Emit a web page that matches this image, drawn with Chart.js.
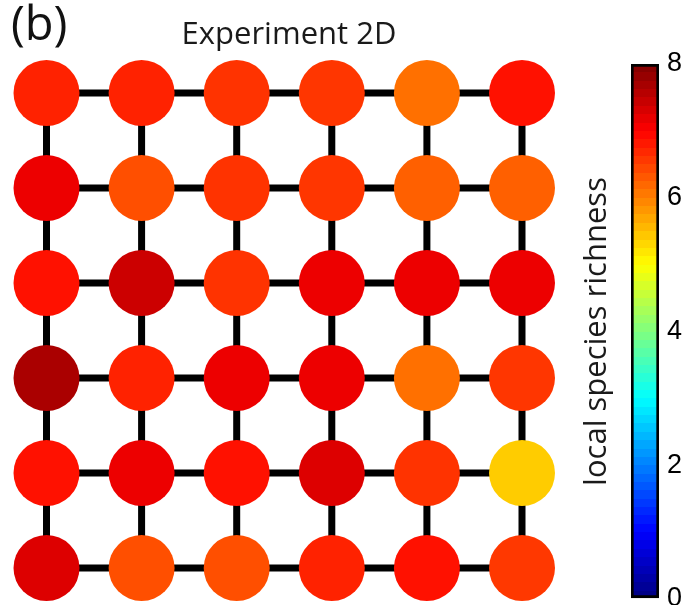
<!DOCTYPE html>
<html>
<head>
<meta charset="utf-8">
<script src="https://cdn.jsdelivr.net/npm/chart.js@4.4.1/dist/chart.umd.min.js"></script>
<style>
  html, body { margin: 0; padding: 0; background: #ffffff; }
  #wrap { position: relative; width: 689px; height: 605px; overflow: hidden; background: #fff; }
  #gridBox { position: absolute; left: 0; top: 0; width: 580px; height: 605px; }
  #cbBox { position: absolute; left: 576px; top: 0; width: 113px; height: 605px; }
  #panel { position: absolute; left: 11px; top: -10px; font-family: "Open Sans", sans-serif; font-size: 47px; line-height: normal; color: #111; }
  #title { position: absolute; left: 0; width: 578px; top: 11px; text-align: center; font-family: "Open Sans", sans-serif; font-size: 31px; line-height: normal; color: #1a1a1a; }
</style>
</head>
<body>
<div id="wrap">
  <div id="gridBox"><canvas id="grid"></canvas></div>
  <div id="cbBox"><canvas id="cb"></canvas></div>
  <div id="panel">(b)</div>
  <div id="title">Experiment 2D</div>
</div>
<script>
// ---- data ----
const gridCols = [0, 1, 2, 3, 4, 5];
const gridRows = [0, 1, 2, 3, 4, 5];           // row 0 = top
const richnessRow1 = [6.73, 6.73, 6.60, 6.58, 6.12, 6.87];
const richnessRow2 = [7.14, 6.38, 6.60, 6.58, 6.25, 6.25];
const richnessRow3 = [6.87, 7.40, 6.60, 7.14, 7.14, 7.14];
const richnessRow4 = [7.67, 6.73, 7.14, 7.14, 6.12, 6.58];
const richnessRow5 = [6.87, 7.14, 6.87, 7.27, 6.60, 5.40];
const richnessRow6 = [7.27, 6.38, 6.38, 6.73, 6.87, 6.56];
const richness = [richnessRow1, richnessRow2, richnessRow3, richnessRow4, richnessRow5, richnessRow6];
const colorbarTicks = [0, 2, 4, 6, 8];
const colorbarLabel = "local species richness";
const cMin = 0, cMax = 8;

// ---- jet colormap ----
function clamp01(v) { return Math.max(0, Math.min(1, v)); }
function jet(t) {
  const r = clamp01(1.5 - Math.abs(4 * t - 3));
  const g = clamp01(1.5 - Math.abs(4 * t - 2));
  const b = clamp01(1.5 - Math.abs(4 * t - 1));
  return `rgb(${Math.round(r * 255)},${Math.round(g * 255)},${Math.round(b * 255)})`;
}
function colorFor(v) { return jet((v - cMin) / (cMax - cMin)); }

// ---- main grid chart ----
const nodePoints = [];
const nodeColors = [];
gridRows.forEach((r, ri) => gridCols.forEach((c, ci) => {
  nodePoints.push({ x: c, y: r, v: richness[ri][ci] });
  nodeColors.push(colorFor(richness[ri][ci]));
}));

const edgeSets = [];
gridRows.forEach(r => edgeSets.push(gridCols.map(c => ({ x: c, y: r }))));
gridCols.forEach(c => edgeSets.push(gridRows.map(r => ({ x: c, y: r }))));

const datasets = [{
  label: 'nodes',
  data: nodePoints,
  pointBackgroundColor: nodeColors,
  pointBorderWidth: 0,
  pointRadius: 33,
  pointHoverRadius: 33,
  showLine: false,
  clip: false,
  order: 0
}];
edgeSets.forEach((d, i) => datasets.push({
  label: 'edge' + i,
  data: d,
  showLine: true,
  borderColor: '#000',
  borderWidth: 7,
  borderCapStyle: 'butt',
  pointRadius: 0,
  pointHoverRadius: 0,
  clip: false,
  order: 1
}));

new Chart(document.getElementById('grid'), {
  type: 'scatter',
  data: { datasets },
  options: {
    responsive: true,
    maintainAspectRatio: false,
    animation: false,
    events: [],
    layout: { padding: { left: 46.5, right: 580 - 522, top: 93, bottom: 605 - 568 } },
    plugins: { legend: { display: false }, tooltip: { enabled: false }, title: { display: false } },
    scales: {
      x: { type: 'linear', min: gridCols[0], max: gridCols[gridCols.length - 1], display: false },
      y: { type: 'linear', min: gridRows[0], max: gridRows[gridRows.length - 1], reverse: true, display: false }
    }
  }
});

// ---- colorbar chart ----
function barGradient(ctx) {
  const chart = ctx.chart;
  const ca = chart.chartArea;
  if (!ca) return null;
  const g = chart.ctx.createLinearGradient(0, ca.bottom, 0, ca.top);
  const n = 64;
  for (let i = 0; i < n; i++) {
    const col = jet((i + 0.5) / n);
    g.addColorStop(i / n, col);
    g.addColorStop((i + 1) / n - 1e-6, col);
  }
  return g;
}

new Chart(document.getElementById('cb'), {
  type: 'bar',
  data: {
    labels: [''],
    datasets: [{
      data: [cMax],
      backgroundColor: barGradient,
      borderColor: '#000',
      borderWidth: 3,
      borderSkipped: false,
      barPercentage: 1,
      categoryPercentage: 1
    }]
  },
  options: {
    responsive: true,
    maintainAspectRatio: false,
    animation: false,
    events: [],
    layout: { padding: { left: 0, right: 0, top: 64, bottom: 605 - 599 } },
    plugins: { legend: { display: false }, tooltip: { enabled: false } },
    scales: {
      x: { display: false },
      y: {
        position: 'right',
        min: cMin, max: cMax,
        z: 1,
        afterBuildTicks: (s) => { s.ticks = colorbarTicks.map(v => ({ value: v })); },
        afterFit: (s) => { s.width = 30; s.paddingTop = 0; s.paddingBottom = 0; },
        ticks: { color: '#000', padding: 8, font: { family: 'Liberation Sans, Arial, sans-serif', size: 27 } },
        grid: {
          display: true, drawOnChartArea: true, drawTicks: false, lineWidth: 2,
          color: (c) => (c.tick && (c.tick.value === cMin || c.tick.value === cMax)) ? 'rgba(0,0,0,0)' : '#000'
        },
        border: { display: false, dash: [7, 14] }
      },
      yl: {
        position: 'left',
        min: cMin, max: cMax,
        afterFit: (s) => { s.width = 55; s.paddingTop = 0; s.paddingBottom = 0; },
        ticks: { display: false },
        grid: { display: false },
        border: { display: false },
        title: { display: true, text: colorbarLabel, color: '#1a1a1a', font: { family: 'Open Sans, sans-serif', size: 31 }, padding: { top: 3, bottom: 3 } }
      }
    }
  }
});
</script>
</body>
</html>
